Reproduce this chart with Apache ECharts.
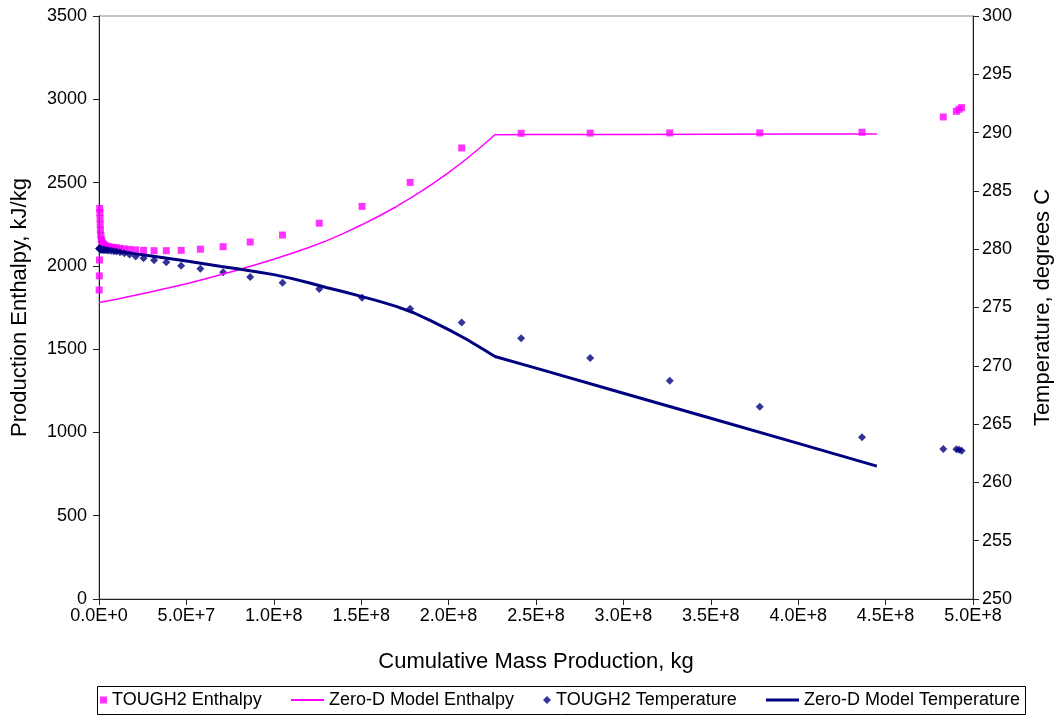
<!DOCTYPE html>
<html>
<head>
<meta charset="utf-8">
<script src="https://cdn.jsdelivr.net/npm/echarts/dist/echarts.min.js"></script>
<style>
html,body{margin:0;padding:0;background:#fff}
#chart{width:1059px;height:717px}
</style>
</head>
<body>
<div id="chart"></div>
<script>
// TOUGH2 simulation output: cumulative mass (kg), production enthalpy (kJ/kg), temperature (deg C)
const toughMass = [1.0e5,2.0e5,3.0e5,4.0e5,5.0e5,6.0e5,7.0e5,8.0e5,1.0e6,1.3e6,1.7e6,2.2e6,2.8e6,3.5e6,4.5e6,5.5e6,7.0e6,8.5e6,1.0e7,1.2e7,1.45e7,1.75e7,2.1e7,2.55e7,3.15e7,3.85e7,4.7e7,5.8e7,7.1e7,8.65e7,1.05e8,1.26e8,1.505e8,1.78e8,2.075e8,2.415e8,2.81e8,3.265e8,3.78e8,4.365e8,4.83e8,4.905e8,4.92e8,4.935e8];
const toughEnthalpy = [1855,1940,2035,2345,2320,2285,2250,2215,2185,2160,2145,2135,2128,2122,2118,2115,2112,2110,2108,2105,2102,2099,2096,2093,2091,2091,2093,2100,2115,2143,2185,2256,2357,2501,2708,2796,2797,2798,2798,2802,2894,2928,2940,2950];
const toughTemperature = [280.05,280.05,280.04,280.03,280.02,280.01,280.0,279.99,279.98,279.97,279.96,279.95,279.94,279.93,279.91,279.89,279.86,279.83,279.80,279.74,279.66,279.54,279.38,279.22,279.05,278.88,278.58,278.33,278.02,277.62,277.13,276.59,275.84,274.90,273.71,272.36,270.67,268.72,266.49,263.87,262.86,262.84,262.80,262.72];

// Zero-D model curves
const modelMass = [0,1e7,2e7,3e7,4e7,5e7,6e7,7e7,8e7,9e7,1e8,1.1e8,1.2e8,1.3e8,1.4e8,1.5e8,1.6e8,1.7e8,1.8e8,1.9e8,2.0e8,2.1e8,2.2e8,2.265e8,2.5e8,3.0e8,3.5e8,4.0e8,4.45e8];
const modelEnthalpy = [1780,1800,1822,1845,1868,1893,1920,1948,1977,2008,2040,2074,2110,2150,2195,2245,2298,2355,2418,2486,2560,2640,2727,2787,2788,2789,2790,2791,2792];
const modelTemperature = [280.0,279.82,279.62,279.42,279.2,278.98,278.75,278.52,278.3,278.06,277.82,277.5,277.12,276.72,276.35,275.95,275.55,275.1,274.55,273.85,273.1,272.3,271.4,270.8,269.8,267.65,265.5,263.35,261.4];

// Axis ranges and tick steps
const massAxis = {min: 0, max: 5e8, step: 5e7};
const enthalpyAxis = {min: 0, max: 3500, step: 500};
const temperatureAxis = {min: 250, max: 300, step: 5};

const seriesNames = ['TOUGH2 Enthalpy', 'Zero-D Model Enthalpy', 'TOUGH2 Temperature', 'Zero-D Model Temperature'];

const pair = (xs, ys) => xs.map((x, i) => [x, ys[i]]);
const FONT = "'Liberation Sans', Arial, sans-serif";
const AXIS_COLOR = '#222';
const MAGENTA = '#ff00ff';
const NAVY = '#000080';
const LEGEND_FONT_SIZE = 18;

// Legend: one component per entry so every key can have its own size,
// spread evenly across a framed box under the plot.
const legendBox = {x: 97, y: 686, w: 928, h: 28, padL: 3, padR: 5};
const legendKeys = [
  {icon: 'rect', w: 7, h: 7, color: MAGENTA},
  {icon: 'rect', w: 33, h: 2, color: MAGENTA},
  {icon: 'diamond', w: 8, h: 8, color: NAVY},
  {icon: 'rect', w: 33, h: 3, color: NAVY}
];
const measureCtx = document.createElement('canvas').getContext('2d');
measureCtx.font = LEGEND_FONT_SIZE + 'px ' + FONT;
const textWidths = seriesNames.map(n => measureCtx.measureText(n).width);
const itemWidths = legendKeys.map((k, i) => k.w + 5 + textWidths[i]);
const usedWidth = itemWidths.reduce((a, b) => a + b, 0);
const legendGap = (legendBox.w - legendBox.padL - legendBox.padR - usedWidth) / (legendKeys.length - 1);
let cursor = legendBox.x + legendBox.padL;
const legends = legendKeys.map((k, i) => {
  const l = {
    left: Math.round(cursor), top: legendBox.y + legendBox.h / 2 - 11,
    padding: 0, selectedMode: false,
    itemWidth: k.w, itemHeight: k.h,
    textStyle: {fontFamily: FONT, fontSize: LEGEND_FONT_SIZE, color: '#000', lineHeight: 22},
    data: [{name: seriesNames[i], icon: k.icon, itemStyle: {color: k.color}}]
  };
  cursor += itemWidths[i] + legendGap;
  return l;
});

const chart = echarts.init(document.getElementById('chart'), null, {renderer: 'canvas'});

chart.setOption({
  animation: false,
  backgroundColor: '#fff',
  textStyle: {fontFamily: FONT, color: '#000'},
  grid: {
    left: 99, right: 86, top: 16, bottom: 118,
    containLabel: false, outerBoundsMode: 'none',
    show: true, borderColor: '#8a8a8a', borderWidth: 1, backgroundColor: 'transparent'
  },
  legend: legends,
  graphic: [{
    type: 'rect', silent: true,
    shape: {x: legendBox.x + 0.5, y: legendBox.y + 0.5, width: legendBox.w, height: legendBox.h},
    style: {fill: 'none', stroke: '#000', lineWidth: 1}
  }],
  xAxis: {
    type: 'value',
    min: massAxis.min, max: massAxis.max, interval: massAxis.step,
    name: 'Cumulative Mass Production, kg',
    nameLocation: 'middle', nameGap: 52,
    nameTextStyle: {fontFamily: FONT, fontSize: 22, color: '#000'},
    axisLine: {onZero: false, lineStyle: {color: AXIS_COLOR, width: 1}},
    axisTick: {length: 6, lineStyle: {color: AXIS_COLOR}},
    axisLabel: {fontFamily: FONT, fontSize: 18, color: '#000', margin: 8,
      formatter: v => v.toExponential(1).replace('e', 'E')},
    splitLine: {show: false}
  },
  yAxis: [
    {
      type: 'value', position: 'left',
      min: enthalpyAxis.min, max: enthalpyAxis.max, interval: enthalpyAxis.step,
      name: 'Production Enthalpy, kJ/kg',
      nameLocation: 'middle', nameGap: 68,
      nameTextStyle: {fontFamily: FONT, fontSize: 22, color: '#000'},
      axisLine: {show: true, onZero: false, lineStyle: {color: AXIS_COLOR, width: 1}},
      axisTick: {show: true, length: 6, lineStyle: {color: AXIS_COLOR}},
      axisLabel: {fontFamily: FONT, fontSize: 18, color: '#000', margin: 12,
        formatter: v => String(v)},
      splitLine: {show: false}
    },
    {
      type: 'value', position: 'right',
      min: temperatureAxis.min, max: temperatureAxis.max, interval: temperatureAxis.step,
      name: 'Temperature, degrees C',
      nameLocation: 'middle', nameGap: 59,
      nameTextStyle: {fontFamily: FONT, fontSize: 22, color: '#000'},
      axisLine: {show: true, onZero: false, lineStyle: {color: AXIS_COLOR, width: 1}},
      axisTick: {show: true, length: 6, lineStyle: {color: AXIS_COLOR}},
      axisLabel: {fontFamily: FONT, fontSize: 18, color: '#000', margin: 9,
        formatter: v => String(v)},
      splitLine: {show: false}
    }
  ],
  series: [
    {
      name: seriesNames[0], type: 'scatter', yAxisIndex: 0,
      symbol: 'rect', symbolSize: 7,
      itemStyle: {color: MAGENTA},
      data: pair(toughMass, toughEnthalpy)
    },
    {
      name: seriesNames[1], type: 'line', yAxisIndex: 0,
      symbol: 'none', showSymbol: false,
      lineStyle: {color: MAGENTA, width: 1.5},
      itemStyle: {color: MAGENTA},
      data: pair(modelMass, modelEnthalpy)
    },
    {
      name: seriesNames[2], type: 'scatter', yAxisIndex: 1,
      symbol: 'diamond', symbolSize: 8,
      itemStyle: {color: NAVY},
      data: pair(toughMass, toughTemperature)
    },
    {
      name: seriesNames[3], type: 'line', yAxisIndex: 1,
      symbol: 'none', showSymbol: false,
      lineStyle: {color: NAVY, width: 3},
      itemStyle: {color: NAVY},
      data: pair(modelMass, modelTemperature)
    }
  ]
});
</script>
</body>
</html>
